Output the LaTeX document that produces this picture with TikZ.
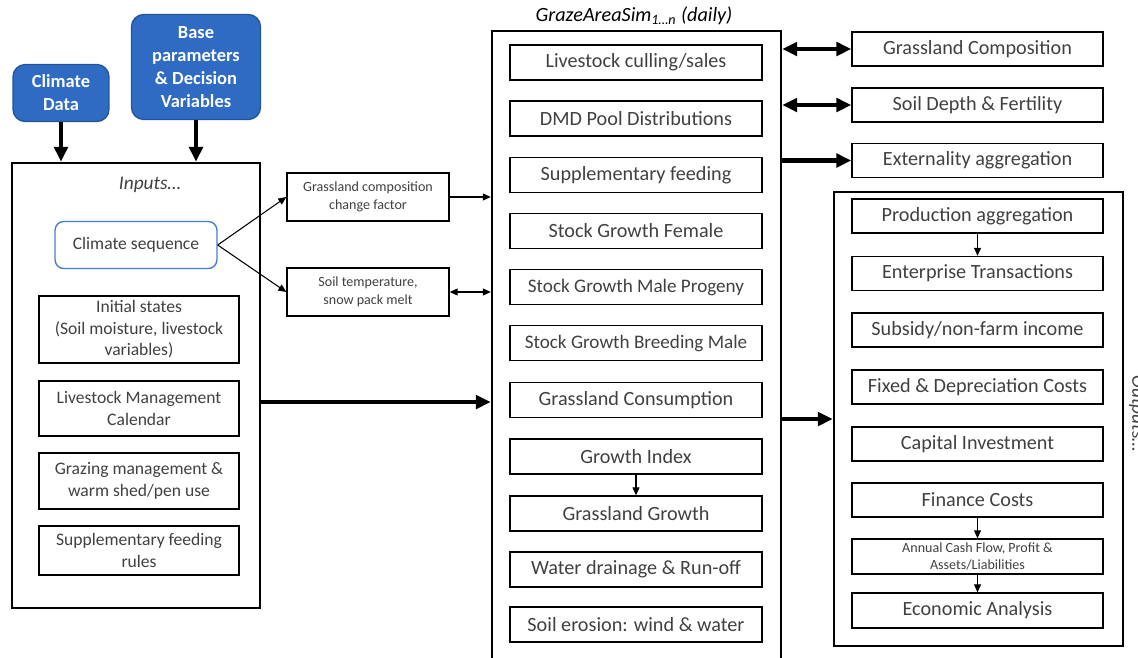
\documentclass[tikz,border=0pt]{standalone}
\usepackage{fontspec}
\setmainfont{Carlito}
\usepackage{tikz}
\usetikzlibrary{arrows.meta}
\definecolor{boxblue}{HTML}{2F6BC3}
\definecolor{boxblueline}{HTML}{23559F}
\definecolor{seqblue}{HTML}{4A7BD0}
\definecolor{txtgray}{HTML}{404040}

\begin{document}
\begin{tikzpicture}[
        x=0.02cm, y=-0.02cm,
        bigbox/.style={draw, line width=1.4pt, inner sep=0pt},
        simbox/.style={draw, line width=0.8pt, minimum width=5.04cm, minimum height=0.7cm, inner sep=1pt, text=txtgray, font=\fontsize{11.5}{13}\selectfont},
        inbox/.style={draw, line width=0.8pt, minimum width=4cm, inner sep=1pt, align=center, text=txtgray, font=\fontsize{10}{12.2}\selectfont},
        smallbox/.style={draw, line width=0.8pt, minimum width=3.24cm, minimum height=0.96cm, inner sep=1pt, align=center, text=txtgray, font=\fontsize{8}{10}\selectfont},
        bluebox/.style={draw=boxblueline, fill=boxblue, line width=0.8pt, rounded corners=7pt, text=white, align=center, font=\bfseries\fontsize{10.5}{13}\selectfont},
        bigarrow/.style={line width=2.3pt, -{Triangle[length=0.3cm,width=0.27cm]}},
        bigboth/.style={line width=2.3pt, {Triangle[length=0.3cm,width=0.27cm]}-{Triangle[length=0.3cm,width=0.27cm]}},
        thinarrow/.style={line width=0.6pt, -{Triangle[length=0.16cm,width=0.14cm]}},
        thinboth/.style={line width=0.6pt, {Triangle[length=0.16cm,width=0.14cm]}-{Triangle[length=0.16cm,width=0.14cm]}}
    ]
        \useasboundingbox (0,0) rectangle (1138,657);
        \clip (0,0) rectangle (1138,657);

        % inputs side
        \node[bluebox, minimum width=1.92cm, minimum height=1.14cm] (cdata) at (61,93) {Climate\\Data};
        \node[bluebox, minimum width=2.58cm, minimum height=2.1cm] (basepar) at (196,67) {Base\\parameters\\\& Decision\\Variables};
        \node[bigbox, minimum width=4.96cm, minimum height=8.9cm] (inputs) at (136,385.5) {};
        \node[text=txtgray, font=\itshape\fontsize{11}{13}\selectfont] (intitle) at (150,185) {Inputs\dots};
        \node[draw=seqblue, line width=0.8pt, rounded corners=5pt, minimum width=3.24cm, minimum height=0.94cm, text=txtgray, font=\fontsize{10}{12}\selectfont] (cseq) at (136,245) {Climate sequence};
        \node[inbox, minimum height=1.34cm] (init) at (139,329.5) {Initial states\\(Soil moisture, livestock\\variables)};
        \node[inbox, minimum height=1.1cm] (lmc) at (139,408.5) {Livestock Management\\Calendar};
        \node[inbox, minimum height=1.12cm] (grazing) at (139,481) {Grazing management \&\\warm shed/pen use};
        \node[inbox, minimum height=0.98cm] (suppr) at (139,550.5) {Supplementary feeding\\rules};

        \draw[bigarrow] (cdata.south) -- (cdata.south |- inputs.north);
        \draw[bigarrow] (basepar.south) -- (basepar.south |- inputs.north);

        % climate driven factors
        \node[smallbox] (gcf) at (368,197) {Grassland composition\\change factor};
        \node[smallbox] (stemp) at (368,292) {Soil temperature,\\snow pack melt};

        % daily simulation
        \node[bigbox, minimum width=5.78cm, minimum height=12.78cm] (graze) at (636.5,350.5) {};
        \node[font=\itshape\fontsize{11.5}{13}\selectfont] (simtitle) at (634,16) {GrazeAreaSim\textsubscript{1\dots n} (daily)};
        \node[simbox] (cull) at (636,62.5) {Livestock culling/sales};
        \node[simbox] (dmd) at (636,118.5) {DMD Pool Distributions};
        \node[simbox] (suppf) at (636,175) {Supplementary feeding};
        \node[simbox] (sgf) at (636,231) {Stock Growth Female};
        \node[simbox, font=\fontsize{10.9}{13}\selectfont] (sgmp) at (636,287) {Stock Growth Male Progeny};
        \node[simbox, font=\fontsize{10.9}{13}\selectfont] (sgbm) at (636,343) {Stock Growth Breeding Male};
        \node[simbox] (gcons) at (636,400) {Grassland Consumption};
        \node[simbox] (gindex) at (636,456.5) {Growth Index};
        \node[simbox] (ggrowth) at (636,513.5) {Grassland Growth};
        \node[simbox] (water) at (636,569.5) {Water drainage \& Run-off};
        \node[simbox] (erosion) at (636,624.5) {Soil erosion: wind \& water};

        \draw[thinarrow] (cseq.east) -- (gcf.west);
        \draw[thinarrow] (cseq.east) -- (stemp.west);
        \draw[thinarrow] (gcf.east) -- (gcf.east -| graze.west);
        \draw[thinboth] (stemp.east) -- (stemp.east -| graze.west);
        \coordinate (inarr) at (260,402);
        \draw[bigarrow] (inarr) -- (inarr -| graze.west);
        \draw[thinarrow] (gindex.south) -- (ggrowth.north);

        % landscape state
        \node[simbox, minimum width=5.02cm, minimum height=0.68cm] (gcomp) at (977.5,49) {Grassland Composition};
        \node[simbox, minimum width=5.02cm, minimum height=0.68cm] (soil) at (977.5,105) {Soil Depth \& Fertility};
        \node[simbox, minimum width=5.02cm, minimum height=0.68cm] (ext) at (977.5,160.5) {Externality aggregation};

        \draw[bigboth] (gcomp.west -| graze.east) -- (gcomp.west);
        \draw[bigboth] (soil.west -| graze.east) -- (soil.west);
        \draw[bigarrow] (ext.west -| graze.east) -- (ext.west);

        % outputs
        \node[bigbox, minimum width=5.78cm, minimum height=9.08cm] (outputs) at (978.5,419) {};
        \node[rotate=-90, text=txtgray, font=\itshape\fontsize{11}{13}\selectfont] (outtitle) at (1137,414) {Outputs\dots};
        \node[simbox, minimum width=5.02cm, minimum height=0.68cm] (prod) at (977.5,216) {Production aggregation};
        \node[simbox, minimum width=5.02cm, minimum height=0.68cm] (ent) at (977.5,273.5) {Enterprise Transactions};
        \node[simbox, minimum width=5.02cm, minimum height=0.68cm] (subs) at (977.5,330) {Subsidy/non-farm income};
        \node[simbox, minimum width=5.02cm, minimum height=0.68cm] (fixed) at (977.5,387) {Fixed \& Depreciation Costs};
        \node[simbox, minimum width=5.02cm, minimum height=0.68cm] (capinv) at (977.5,444) {Capital Investment};
        \node[simbox, minimum width=5.02cm, minimum height=0.68cm] (fin) at (977.5,500) {Finance Costs};
        \node[simbox, minimum width=5.02cm, minimum height=0.7cm, inner sep=0pt, align=center, font=\fontsize{8}{9.6}\selectfont] (cash) at (977.5,556.5) {Annual Cash Flow, Profit \&\\Assets/Liabilities};
        \node[simbox, minimum width=5.02cm, minimum height=0.7cm] (econ) at (977.5,610.5) {Economic Analysis};

        \draw[thinarrow] (prod.south) -- (ent.north);
        \draw[thinarrow] (fin.south) -- (cash.north);
        \draw[thinarrow] (cash.south) -- (econ.north);
        \draw[bigarrow] (outputs.west -| graze.east) -- (outputs.west);
    \end{tikzpicture}
\end{document}
